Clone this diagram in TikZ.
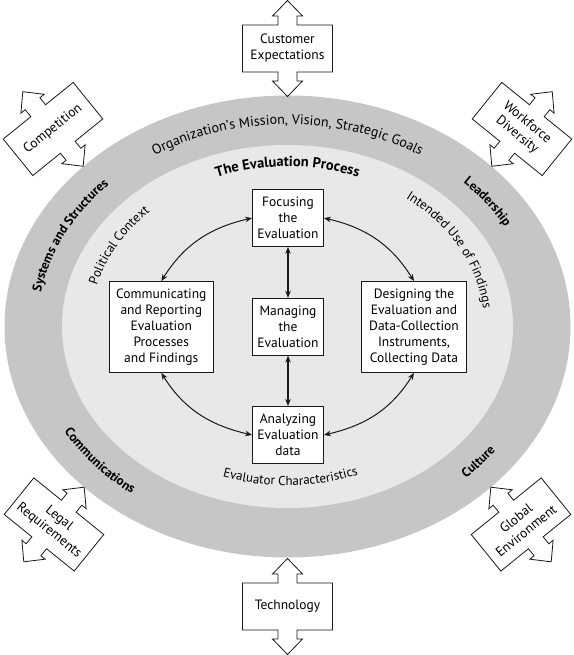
\documentclass[tikz,border=0pt]{standalone}
\usepackage{fontspec}
\setmainfont{PT Sans}
\usetikzlibrary{arrows.meta,decorations.text,calc}
\definecolor{ringgray}{RGB}{198,198,198}
\definecolor{innergray}{RGB}{232,232,232}
\definecolor{inkc}{RGB}{25,25,25}
\newcommand\rf{\fontsize{13}{15}\selectfont}
\newcommand\rfl{\fontsize{14}{16}\selectfont}
\newcommand\rfb{\fontsize{13}{15}\selectfont\bfseries}
\newcommand\rfbl{\fontsize{14.5}{16}\selectfont\bfseries}
\tikzset{
  boxline/.style={draw=inkc, line width=0.8pt, fill=white},
  procbox/.style={draw=inkc, line width=0.8pt, fill=white, align=center, inner sep=2pt},
  midbox/.style={procbox, minimum width=71pt, minimum height=57pt},
  sidebox/.style={procbox, minimum width=104.5pt, minimum height=91pt},
  flow/.style={draw=inkc, line width=1pt, {Stealth[length=7pt,width=5.5pt]}-{Stealth[length=7pt,width=5.5pt]}},
  ringtext/.style={decorate, decoration={text along path, text align=center, text={#1}}}
}
\newcommand\ArrowBox[4]{%
  \begin{scope}[shift={#2}, rotate=#3]
    \draw[boxline] (-45,23.5) -- (-9.5,23.5) -- (-9.5,32.5) -- (-15,32.5) -- (0,48) -- (15,32.5) -- (9.5,32.5) -- (9.5,23.5) -- (45,23.5) -- (45,-23.5) -- (9.5,-23.5) -- (9.5,-32.5) -- (15,-32.5) -- (0,-48) -- (-15,-32.5) -- (-9.5,-32.5) -- (-9.5,-23.5) -- (-45,-23.5) -- cycle;
  \end{scope}
  \node[rotate=#3, align=center, inner sep=0pt] (#1) at #2 {#4};
}
\begin{document}
\begin{tikzpicture}[x=1pt,y=1pt, font=\fontsize{13.5}{16}\selectfont]
\useasboundingbox (0,0) rectangle (573,655);
\fill[white] (0,0) rectangle (573,655);
\coordinate (C) at (287.5,328.5);
\fill[ringgray] (C) ellipse[x radius=283pt, y radius=231pt];
\fill[innergray] (C) ellipse[x radius=225.5pt, y radius=181.5pt];

% outer arrow boxes
\ArrowBox{cust}{(287.5,606.5)}{0}{Customer\\Expectations}
\ArrowBox{tech}{(287.5,48.5)}{0}{Technology}
\ArrowBox{comp}{(53,526)}{39}{Competition}
\ArrowBox{work}{(522,526)}{-39}{Workforce\\Diversity}
\ArrowBox{legal}{(54,130.5)}{-39}{Legal\\Requirements}
\ArrowBox{glob}{(521,130.5)}{39}{Global\\Environment}

% ring texts (outer ring)
\path[ringtext={|\rfl|Organization's Mission, Vision, Strategic Goals}] ($(C)+(150:250 and 202)$) arc[start angle=150, end angle=30, x radius=250pt, y radius=202pt];
\path[ringtext={|\rfb|Systems and Structures}] ($(C)+(200:250 and 202)$) arc[start angle=200, end angle=110, x radius=250pt, y radius=202pt];
\path[ringtext={|\rfb|Leadership}] ($(C)+(71:250 and 202)$) arc[start angle=71, end angle=0, x radius=250pt, y radius=202pt];
\path[ringtext={|\rfb|Communications}] ($(C)+(188:258 and 210)$) arc[start angle=188, end angle=252, x radius=258pt, y radius=210pt];
\path[ringtext={|\rfb|Culture}] ($(C)+(292:258 and 210)$) arc[start angle=292, end angle=348, x radius=258pt, y radius=210pt];

% inner ring texts
\path[ringtext={|\rfbl|The Evaluation Process}] ($(C)+(150:196 and 160)$) arc[start angle=150, end angle=30, x radius=196pt, y radius=160pt];
\path[ringtext={|\rf|Political Context}] ($(C)+(197:197 and 160.5)$) arc[start angle=197, end angle=107, x radius=197pt, y radius=160.5pt];
\path[ringtext={|\rf|Intended Use of Findings}] ($(C)+(73:197 and 160.5)$) arc[start angle=73, end angle=-17, x radius=197pt, y radius=160.5pt];
\path[ringtext={|\rf|Evaluator Characteristics}] ($(C)+(230:197 and 159)$) arc[start angle=230, end angle=312, x radius=197pt, y radius=159pt];

% process boxes
\node[midbox] (focus) at (288,437) {Focusing\\the\\Evaluation};
\node[midbox] (manage) at (288,328.3) {Managing\\the\\Evaluation};
\node[midbox] (analyze) at (288,220) {Analyzing\\Evaluation\\data};
\node[sidebox] (comm) at (161.3,328) {Communicating\\and Reporting\\Evaluation\\Processes\\and Findings};
\node[sidebox] (design) at (414,328) {Designing the\\Evaluation and\\Data-Collection\\Instruments,\\Collecting Data};

% connectors
\draw[flow, line width=1.3pt] (focus.south) -- (manage.north);
\draw[flow, line width=1.3pt] (manage.south) -- (analyze.north);
\draw[flow] (comm.north) to[out=58, in=193] (focus.west);
\draw[flow] (design.north) to[out=122, in=-13] (focus.east);
\draw[flow] (comm.south) to[out=-58, in=167] (analyze.west);
\draw[flow] (design.south) to[out=238, in=13] (analyze.east);
\end{tikzpicture}
\end{document}
